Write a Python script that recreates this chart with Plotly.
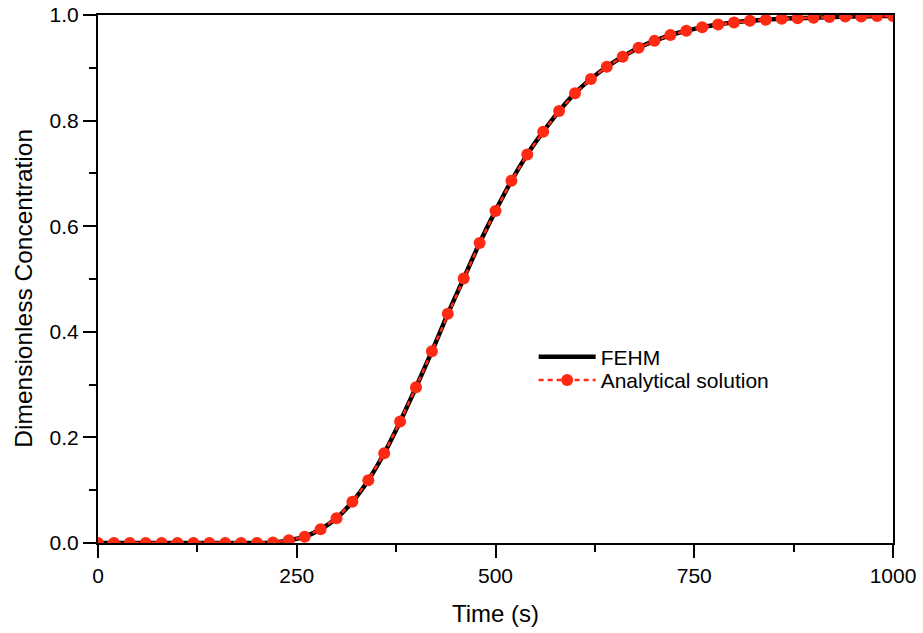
import plotly.graph_objects as go

# Breakthrough curve: time (s) vs dimensionless concentration
time_s = list(range(0, 1001, 20))

analytical_conc = [
    0.000, 0.000, 0.000, 0.000, 0.000, 0.000, 0.000, 0.000, 0.000, 0.000,
    0.000, 0.001, 0.005, 0.012, 0.026, 0.047, 0.078, 0.119, 0.170, 0.230,
    0.295, 0.363, 0.434, 0.501, 0.568, 0.629, 0.686, 0.736, 0.779, 0.818,
    0.852, 0.879, 0.902, 0.921, 0.938, 0.951, 0.962, 0.970, 0.977, 0.982,
    0.986, 0.989, 0.991, 0.993, 0.994, 0.995, 0.996, 0.997, 0.997, 0.998,
    0.998,
]

fehm_conc = [
    0.000, 0.000, 0.000, 0.000, 0.000, 0.000, 0.000, 0.000, 0.000, 0.000,
    0.000, 0.001, 0.005, 0.012, 0.026, 0.047, 0.078, 0.119, 0.170, 0.230,
    0.295, 0.363, 0.434, 0.501, 0.568, 0.629, 0.686, 0.736, 0.779, 0.818,
    0.852, 0.879, 0.902, 0.921, 0.938, 0.951, 0.962, 0.970, 0.977, 0.982,
    0.986, 0.989, 0.991, 0.993, 0.994, 0.995, 0.996, 0.997, 0.997, 0.998,
    0.998,
]

x_ticks = [0, 250, 500, 750, 1000]
y_ticks = [0.0, 0.2, 0.4, 0.6, 0.8, 1.0]
y_tick_labels = ["0.0", "0.2", "0.4", "0.6", "0.8", "1.0"]

FONT = "Arial, Liberation Sans, sans-serif"
RED = "#ff2a14"

fig = go.Figure()

fig.add_trace(go.Scatter(
    x=time_s, y=fehm_conc, name="FEHM", mode="lines",
    line=dict(color="black", width=4.5, shape="spline"),
    legend="legend",
))
fig.add_trace(go.Scatter(
    x=time_s, y=analytical_conc, name="Analytical solution",
    mode="lines+markers",
    line=dict(color=RED, width=2.5, dash="5px,4px"),
    marker=dict(color=RED, size=12, line=dict(width=0)),
    legend="legend2",
))

axis_common = dict(
    showgrid=False, zeroline=False, showline=True, linecolor="black",
    linewidth=2, mirror=True, ticks="outside", ticklen=13, tickwidth=2,
    tickcolor="black", tickfont=dict(family=FONT, size=21, color="black"),
)

fig.update_xaxes(
    range=[0, 1000], tickvals=x_ticks,
    minor=dict(ticks="outside", ticklen=7, tickwidth=2, tickcolor="black",
               dtick=125, tick0=0),
    title=dict(text="Time (s)", font=dict(family=FONT, size=24, color="black"),
               standoff=19),
    **axis_common,
)
fig.update_yaxes(
    range=[0, 1.0], tickvals=y_ticks, ticktext=y_tick_labels,
    minor=dict(ticks="outside", ticklen=7, tickwidth=2, tickcolor="black",
               dtick=0.1, tick0=0),
    **axis_common,
)

# y-axis title, placed as a rotated annotation
fig.add_annotation(
    text="Dimensionless Concentration", textangle=-90,
    xref="paper", yref="paper", x=-0.0935, y=0.483,
    xanchor="center", yanchor="middle", showarrow=False,
    font=dict(family=FONT, size=24.5, color="black"),
)

legend_common = dict(
    xanchor="left", yanchor="top", bgcolor="rgba(0,0,0,0)", borderwidth=0,
    font=dict(family=FONT, size=21, color="black"), itemwidth=57,
)

fig.update_layout(
    width=923, height=633,
    margin=dict(l=98, r=30, t=15, b=90, autoexpand=False),
    paper_bgcolor="white", plot_bgcolor="white",
    showlegend=True,
    legend=dict(x=0.548, y=0.391, **legend_common),
    legend2=dict(x=0.548, y=0.347, **legend_common),
)

fig.write_html("out.html")
